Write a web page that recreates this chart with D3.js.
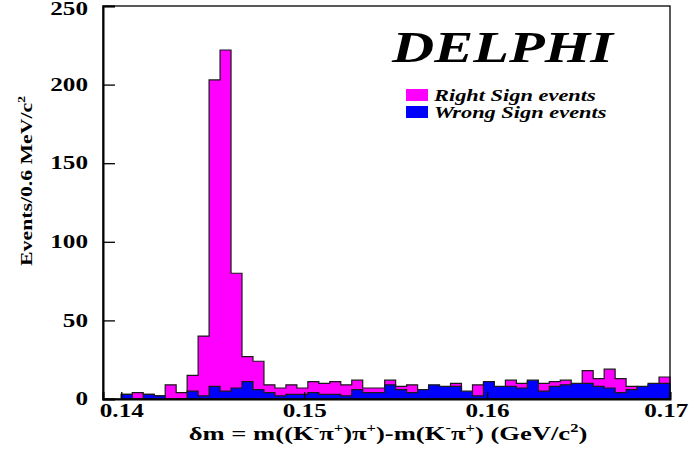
<!DOCTYPE html>
<html>
<head>
<meta charset="utf-8">
<script src="https://cdn.jsdelivr.net/npm/d3@7"></script>
<style>
  body { margin: 0; background: #fff; }
  text { font-family: "Liberation Serif", "Times New Roman", serif; font-weight: bold; fill: #000; }
</style>
</head>
<body>
<svg id="chart" width="693" height="452"></svg>
<script>
// Histogram binning: 0.6 MeV bins starting at 0.140 GeV
const binStart = 0.14;
const binWidth = 0.0006;

// Events per bin, right-sign and wrong-sign combinations
const rightSign = [3, 4, 3, 2, 9, 4, 15, 40, 203, 222,
                   80, 27, 24, 9, 7, 9, 7, 11, 10, 11,
                   9, 12, 7, 7, 12, 8, 9, 6, 8, 7,
                   10, 4, 9, 10, 7, 12, 10, 11, 10, 11,
                   12, 9, 18, 13, 19, 13, 8, 7, 9, 14];
const wrongSign = [3, 0, 3, 2, 0, 0, 5, 2, 8, 5,
                   7, 11, 6, 4, 2, 3, 3, 4, 3, 3,
                   2, 6, 4, 4, 9, 6, 4, 6, 9, 8,
                   8, 5, 2, 11, 8, 8, 7, 12, 5, 8,
                   9, 10, 10, 8, 7, 4, 6, 8, 10, 10];

const xTicks = [0.14, 0.15, 0.16, 0.17];
const yTicks = [0, 50, 100, 150, 200, 250];
const seriesNames = ["Right Sign events", "Wrong Sign events"];
const seriesColors = ["#ff00ff", "#0000ff"];

const svg = d3.select("#chart");
const plot = { left: 103, right: 670, top: 6, bottom: 399 };

const x = d3.scaleLinear().domain([0.139, 0.17]).range([plot.left, plot.right]);
const y = d3.scaleLinear().domain([0, 250]).range([plot.bottom, plot.top]);

// Stretch glyphs horizontally around their anchor
function stretch(sel, sx) {
  sel.attr("transform", function () {
    const ax = +this.getAttribute("x") || 0;
    return `translate(${ax},0) scale(${sx},1) translate(${-ax},0)`;
  });
}

// Step histograms (right sign underneath, wrong sign on top)
function histPoints(values) {
  const pts = values.map((v, i) => ({ e: binStart + i * binWidth, v }));
  pts.push({ e: binStart + values.length * binWidth, v: values[values.length - 1] });
  return pts;
}
const area = d3.area()
  .x(d => x(d.e))
  .y0(y(0))
  .y1(d => y(d.v))
  .curve(d3.curveStepAfter);

[rightSign, wrongSign].forEach((vals, i) => {
  svg.append("path")
    .datum(histPoints(vals))
    .attr("d", area)
    .attr("fill", seriesColors[i])
    .attr("stroke", "#1a1a1a")
    .attr("stroke-width", 1.2)
    .attr("stroke-linejoin", "miter");
});

// Frame
svg.append("rect")
  .attr("x", plot.left).attr("y", plot.top)
  .attr("width", plot.right - plot.left).attr("height", plot.bottom - plot.top)
  .attr("fill", "none").attr("stroke", "#000").attr("stroke-width", 1.3);

// Y axis
const gy = svg.append("g")
  .attr("transform", `translate(${plot.left},0)`)
  .call(d3.axisLeft(y).tickValues(yTicks).tickSize(-12).tickPadding(15).tickFormat(d3.format("d")));
gy.attr("font-size", null).attr("font-family", null);
gy.select(".domain").attr("stroke-width", 2);
gy.selectAll(".tick line").attr("stroke-width", 1.3);
gy.selectAll(".tick text").style("font-size", "18px");
stretch(gy.selectAll(".tick text"), 1.4);
gy.selectAll(".tick").filter(d => d === 250).select("text").attr("y", 3);

// X axis
const gx = svg.append("g")
  .attr("transform", `translate(0,${plot.bottom})`)
  .call(d3.axisBottom(x).tickValues(xTicks).tickSize(-7).tickPadding(5).tickFormat(d3.format(".2f")));
gx.attr("font-size", null).attr("font-family", null);
gx.select(".domain").attr("stroke-width", 2);
gx.selectAll(".tick line").attr("stroke-width", 1.3);
gx.selectAll(".tick text").style("font-size", "18px");
stretch(gx.selectAll(".tick text"), 1.4);
gx.selectAll(".tick").filter(d => d === 0.17).select("text").attr("dx", -3);

// Rich text with superscripts
function richText(parent, segs, size) {
  const t = parent.append("text").style("font-size", size + "px");
  let shifted = false;
  segs.forEach(s => {
    const sp = t.append("tspan").text(s[0]);
    if (s[1] && !shifted) { sp.attr("dy", -size * 0.4).style("font-size", (size * 0.62) + "px"); shifted = true; }
    else if (s[1]) { sp.style("font-size", (size * 0.62) + "px"); }
    else if (shifted) { sp.attr("dy", size * 0.4); shifted = false; }
  });
  return t;
}

// X axis title
const xTitle = svg.append("g").attr("transform", "translate(388,440) scale(1.4,1)");
richText(xTitle, [
  ["δm = m((K"], ["-", 1], ["π"], ["+", 1], [")π"], ["+", 1], [")-m(K"], ["-", 1],
  ["π"], ["+", 1], [") (GeV/c"], ["2", 1], [")"]
], 19).attr("text-anchor", "middle");

// Y axis title
const yTitle = svg.append("g").attr("transform", "translate(32,181) rotate(-90) scale(1.28,1)");
richText(yTitle, [["Events/0.6 MeV/c"], ["2", 1]], 17).attr("text-anchor", "middle");

// Experiment label
svg.append("text")
  .attr("x", 392).attr("y", 62)
  .style("font-size", "44px").style("font-style", "italic")
  .attr("transform", "translate(392,0) scale(1.33,1) translate(-392,0)")
  .text("DELPHI");

// Legend
const legend = svg.append("g");
seriesNames.forEach((name, i) => {
  const ly = 89 + i * 17;
  legend.append("rect")
    .attr("x", 406).attr("y", ly).attr("width", 22).attr("height", 12)
    .attr("fill", seriesColors[i]);
  legend.append("text")
    .attr("x", 434).attr("y", ly + 12)
    .style("font-size", "16px").style("font-style", "italic")
    .attr("transform", "translate(434,0) scale(1.4,1) translate(-434,0)")
    .text(name);
});
</script>
</body>
</html>
